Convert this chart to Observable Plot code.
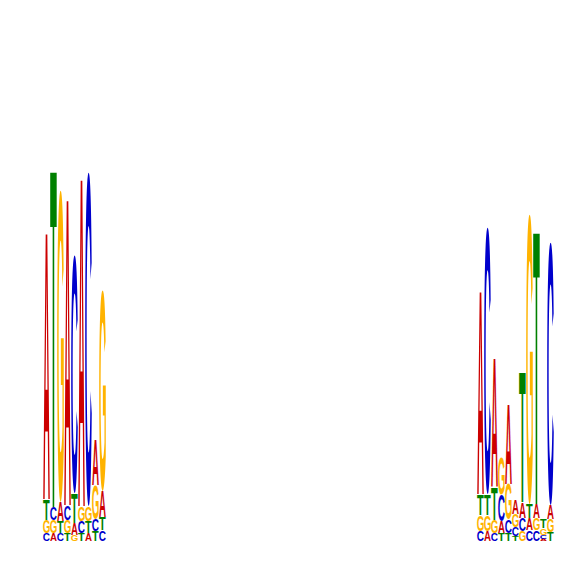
<!DOCTYPE html>
<html>
<head>
<meta charset="utf-8">
<script src="https://cdn.jsdelivr.net/npm/d3@7"></script>
<script src="https://cdn.jsdelivr.net/npm/@observablehq/plot@0.6"></script>
<style>
  html, body { margin: 0; padding: 0; background: #ffffff; }
</style>
</head>
<body>
<div id="chart"></div>
<script>
// Nucleotides and their colours
const bases = ["A", "C", "G", "T"];
const baseColors = ["#cc0000", "#0000cc", "#ffb300", "#008000"];

// Motif positions (positions 10..62 carry no information)
const positions = [1, 2, 3, 4, 5, 6, 7, 8, 9,
                   63, 64, 65, 66, 67, 68, 69, 70, 71, 72, 73];

// Letter heights in bits, per position
const bitsA = [1.345, 0.040, 0.095, 1.545, 0.060, 1.655, 0.040, 0.230, 0.130,
               1.025, 0.050, 0.650, 0.060, 0.400, 0.070, 0.080, 0.060, 0.070, 0.010, 0.070];
const bitsC = [0.040, 0.068, 0.040, 0.075, 1.190, 0.060, 1.670, 0.060, 0.055,
               0.050, 1.335, 0.040, 0.130, 0.065, 0.045, 0.065, 0.055, 0.055, 0.020, 1.315];
const bitsG = [0.065, 0.062, 1.560, 0.065, 0.030, 0.075, 0.075, 0.170, 1.005,
               0.080, 0.080, 0.065, 0.185, 0.180, 0.065, 0.050, 1.450, 0.060, 0.035, 0.065];
const bitsT = [0.105, 1.700, 0.060, 0.040, 0.150, 0.040, 0.060, 0.050, 0.065,
               0.105, 0.105, 0.165, 0.040, 0.040, 0.025, 0.655, 0.070, 1.375, 0.045, 0.045];

const bitsByBase = {A: bitsA, C: bitsC, G: bitsG, T: bitsT};
const rows = [];
positions.forEach((pos, i) => {
  bases.forEach(b => rows.push({pos, base: b, bits: bitsByBase[b][i]}));
});

const plot = Plot.plot({
  width: 566,
  height: 566,
  marginLeft: 40,
  marginRight: 10,
  marginTop: 141,
  marginBottom: 25,
  x: {type: "band", domain: d3.range(1, 74), padding: 0, axis: null},
  y: {domain: [0, 2], axis: null},
  color: {domain: bases, range: baseColors},
  marks: [
    Plot.barY(rows, {x: "pos", y: "bits", order: "value", fill: "none", insetLeft: 0.2, insetRight: 0.2}),
    Plot.text(rows, Plot.stackY({x: "pos", y: "bits", order: "value", text: "base", fill: "base"}))
  ]
});
document.getElementById("chart").appendChild(plot);

// Stretch each letter to fill its stacked cell (sequence-logo style)
const FONT_FAMILY = "Liberation Sans";
const FONT_SIZE = 100;
const ctx = document.createElement("canvas").getContext("2d");
ctx.font = `bold ${FONT_SIZE}px '${FONT_FAMILY}'`;

const barGroup = plot.querySelector('g[aria-label="bar"]');
const textGroup = plot.querySelector('g[aria-label="text"]');
if (barGroup && textGroup) {
  textGroup.setAttribute("transform", barGroup.getAttribute("transform") || "");
  const rectByIndex = new Map();
  barGroup.querySelectorAll("rect").forEach(r => rectByIndex.set(r.__data__, r));
  textGroup.querySelectorAll("text").forEach(t => {
    const r = rectByIndex.get(t.__data__);
    if (!r) return;
    const letter = t.textContent;
    const m = ctx.measureText(letter);
    const gl = m.actualBoundingBoxLeft, gr = m.actualBoundingBoxRight;
    const ga = m.actualBoundingBoxAscent, gd = m.actualBoundingBoxDescent;
    const gw = gl + gr, gh = ga + gd;
    const rx = +r.getAttribute("x"), ry = +r.getAttribute("y");
    const rw = +r.getAttribute("width"), rh = +r.getAttribute("height");
    ["x", "y", "dx", "dy"].forEach(a => t.removeAttribute(a));
    t.setAttribute("text-anchor", "start");
    t.setAttribute("font-family", FONT_FAMILY);
    t.setAttribute("font-weight", "bold");
    t.setAttribute("font-size", FONT_SIZE);
    t.setAttribute("transform",
      `translate(${rx},${ry}) scale(${rw / gw},${rh / gh}) translate(${gl},${ga})`);
  });
}
</script>
</body>
</html>
